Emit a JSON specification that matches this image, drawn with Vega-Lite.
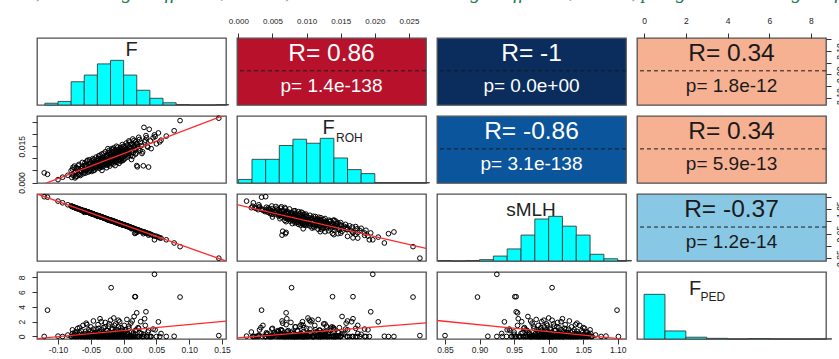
{
"$schema":"https://vega.github.io/schema/vega-lite/v6.json",
"padding":{"left":16,"top":-18,"right":0,"bottom":0},
"background":"white",
"title":{"text":"F, inbreeding coefficient; FROH, ROH-based inbreeding coefficient; FPED, pedigree inbreeding coefficient; R, correlation coefficient; p, p-value","font":"Liberation Serif","fontStyle":"italic","fontWeight":"normal","fontSize":20,"color":"#1d7a4f","anchor":"start","baseline":"alphabetic","offset":-3,"dx":10},
"config":{
 "font":"Liberation Sans",
 "view":{"stroke":"#505050","strokeWidth":1.3},
 "axis":{"domain":false,"grid":false,"tickColor":"#333","tickSize":5,"tickWidth":1,"labelFont":"Liberation Sans","labelFontSize":8.5,"labelColor":"#222","labelOverlap":false,"labelFlush":false,"labelBound":false},
 "text":{"font":"Liberation Sans"}
},
"datasets":{
 "ind":[
{"F":-0.121,"FROH":0.0040,"sMLH":1.101,"FPED":0},
{"F":-0.116,"FROH":0.0034,"sMLH":1.099,"FPED":3.56},
{"F":-0.100,"FROH":0.0012,"sMLH":1.083,"FPED":0.05},
{"F":-0.093,"FROH":0.0022,"sMLH":1.076,"FPED":0},
{"F":-0.085,"FROH":0.0030,"sMLH":1.068,"FPED":0.2},
{"F":-0.079,"FROH":0.0021,"sMLH":1.062,"FPED":0},
{"F":-0.078,"FROH":0.0055,"sMLH":1.061,"FPED":0.4},
{"F":-0.076,"FROH":0.0030,"sMLH":1.058,"FPED":0.1},
{"F":-0.075,"FROH":0.0068,"sMLH":1.057,"FPED":0},
{"F":-0.074,"FROH":0.0019,"sMLH":1.056,"FPED":0.6},
{"F":-0.073,"FROH":0.0044,"sMLH":1.055,"FPED":0},
{"F":-0.072,"FROH":0.0062,"sMLH":1.054,"FPED":0.3},
{"F":-0.071,"FROH":0.0026,"sMLH":1.053,"FPED":0},
{"F":-0.070,"FROH":0.0050,"sMLH":1.052,"FPED":1.1},
{"F":-0.069,"FROH":0.0035,"sMLH":1.050,"FPED":0},
{"F":-0.068,"FROH":0.0075,"sMLH":1.051,"FPED":0.2},
{"F":-0.067,"FROH":0.0041,"sMLH":1.049,"FPED":0.5},
{"F":-0.066,"FROH":0.0029,"sMLH":1.048,"FPED":0},
{"F":-0.065,"FROH":0.0058,"sMLH":1.048,"FPED":0.8},
{"F":-0.064,"FROH":0.0047,"sMLH":1.046,"FPED":0},
{"F":-0.063,"FROH":0.0083,"sMLH":1.044,"FPED":0.1},
{"F":-0.062,"FROH":0.0036,"sMLH":1.045,"FPED":1.5},
{"F":-0.062,"FROH":0.0060,"sMLH":1.043,"FPED":0},
{"F":-0.061,"FROH":0.0052,"sMLH":1.041,"FPED":0.3},
{"F":-0.060,"FROH":0.0070,"sMLH":1.037,"FPED":0},
{"F":-0.059,"FROH":0.0048,"sMLH":1.042,"FPED":0},
{"F":-0.058,"FROH":0.0072,"sMLH":1.041,"FPED":0.7},
{"F":-0.058,"FROH":0.0039,"sMLH":1.040,"FPED":0},
{"F":-0.057,"FROH":0.0065,"sMLH":1.041,"FPED":1.8},
{"F":-0.056,"FROH":0.0088,"sMLH":1.040,"FPED":0.2},
{"F":-0.055,"FROH":0.0055,"sMLH":1.039,"FPED":0},
{"F":-0.054,"FROH":0.0043,"sMLH":1.038,"FPED":0.4},
{"F":-0.053,"FROH":0.0077,"sMLH":1.036,"FPED":0},
{"F":-0.053,"FROH":0.0062,"sMLH":1.037,"FPED":0.9},
{"F":-0.052,"FROH":0.0094,"sMLH":1.035,"FPED":0},
{"F":-0.051,"FROH":0.0051,"sMLH":1.035,"FPED":0.1},
{"F":-0.050,"FROH":0.0068,"sMLH":1.034,"FPED":0},
{"F":-0.050,"FROH":0.0083,"sMLH":1.033,"FPED":1.3},
{"F":-0.049,"FROH":0.0046,"sMLH":1.033,"FPED":0},
{"F":-0.048,"FROH":0.0071,"sMLH":1.032,"FPED":0.6},
{"F":-0.047,"FROH":0.0058,"sMLH":1.031,"FPED":0},
{"F":-0.047,"FROH":0.0099,"sMLH":1.030,"FPED":0.3},
{"F":-0.046,"FROH":0.0064,"sMLH":1.030,"FPED":2.1},
{"F":-0.045,"FROH":0.0078,"sMLH":1.029,"FPED":0},
{"F":-0.044,"FROH":0.0052,"sMLH":1.028,"FPED":0.5},
{"F":-0.044,"FROH":0.0087,"sMLH":1.027,"FPED":0},
{"F":-0.043,"FROH":0.0069,"sMLH":1.027,"FPED":0.2},
{"F":-0.042,"FROH":0.0105,"sMLH":1.025,"FPED":1.0},
{"F":-0.042,"FROH":0.0060,"sMLH":1.026,"FPED":0},
{"F":-0.041,"FROH":0.0081,"sMLH":1.024,"FPED":0.4},
{"F":-0.040,"FROH":0.0073,"sMLH":1.021,"FPED":0},
{"F":-0.039,"FROH":0.0066,"sMLH":1.023,"FPED":0},
{"F":-0.039,"FROH":0.0092,"sMLH":1.024,"FPED":1.6},
{"F":-0.038,"FROH":0.0078,"sMLH":1.022,"FPED":0.1},
{"F":-0.038,"FROH":0.0110,"sMLH":1.021,"FPED":0},
{"F":-0.037,"FROH":0.0059,"sMLH":1.022,"FPED":0.7},
{"F":-0.036,"FROH":0.0085,"sMLH":1.021,"FPED":0},
{"F":-0.036,"FROH":0.0071,"sMLH":1.020,"FPED":2.4},
{"F":-0.035,"FROH":0.0099,"sMLH":1.019,"FPED":0.3},
{"F":-0.034,"FROH":0.0080,"sMLH":1.019,"FPED":0},
{"F":-0.034,"FROH":0.0063,"sMLH":1.018,"FPED":0.9},
{"F":-0.033,"FROH":0.0118,"sMLH":1.017,"FPED":0},
{"F":-0.032,"FROH":0.0088,"sMLH":1.017,"FPED":0.2},
{"F":-0.032,"FROH":0.0074,"sMLH":1.016,"FPED":0},
{"F":-0.031,"FROH":0.0096,"sMLH":1.015,"FPED":1.2},
{"F":-0.030,"FROH":0.0069,"sMLH":1.015,"FPED":0},
{"F":-0.030,"FROH":0.0105,"sMLH":1.014,"FPED":0.5},
{"F":-0.029,"FROH":0.0083,"sMLH":1.013,"FPED":0},
{"F":-0.028,"FROH":0.0127,"sMLH":1.012,"FPED":0.1},
{"F":-0.028,"FROH":0.0077,"sMLH":1.013,"FPED":1.9},
{"F":-0.027,"FROH":0.0093,"sMLH":1.011,"FPED":0},
{"F":-0.026,"FROH":0.0061,"sMLH":1.011,"FPED":0.4},
{"F":-0.026,"FROH":0.0112,"sMLH":1.010,"FPED":0},
{"F":-0.025,"FROH":0.0087,"sMLH":1.009,"FPED":0.8},
{"F":-0.025,"FROH":0.0101,"sMLH":1.008,"FPED":0},
{"F":-0.024,"FROH":0.0072,"sMLH":1.009,"FPED":0.3},
{"F":-0.023,"FROH":0.0120,"sMLH":1.007,"FPED":0},
{"F":-0.023,"FROH":0.0090,"sMLH":1.008,"FPED":1.4},
{"F":-0.022,"FROH":0.0082,"sMLH":1.006,"FPED":0},
{"F":-0.022,"FROH":0.0133,"sMLH":1.005,"FPED":0.6},
{"F":-0.021,"FROH":0.0098,"sMLH":1.006,"FPED":0},
{"F":-0.021,"FROH":0.0068,"sMLH":1.004,"FPED":0.2},
{"F":-0.020,"FROH":0.0108,"sMLH":1.005,"FPED":2.2},
{"F":-0.020,"FROH":0.0085,"sMLH":1.003,"FPED":0},
{"F":-0.024,"FROH":0.0140,"sMLH":1.006,"FPED":0},
{"F":-0.033,"FROH":0.0050,"sMLH":1.018,"FPED":0.1},
{"F":-0.019,"FROH":0.0078,"sMLH":1.005,"FPED":6.6},
{"F":-0.019,"FROH":0.0104,"sMLH":1.004,"FPED":0},
{"F":-0.018,"FROH":0.0121,"sMLH":1.004,"FPED":0.5},
{"F":-0.018,"FROH":0.0089,"sMLH":1.003,"FPED":0},
{"F":-0.017,"FROH":0.0135,"sMLH":1.002,"FPED":1.1},
{"F":-0.017,"FROH":0.0096,"sMLH":1.003,"FPED":0},
{"F":-0.016,"FROH":0.0076,"sMLH":1.001,"FPED":0.3},
{"F":-0.016,"FROH":0.0114,"sMLH":1.002,"FPED":0},
{"F":-0.015,"FROH":0.0102,"sMLH":1.000,"FPED":2.5},
{"F":-0.015,"FROH":0.0143,"sMLH":1.001,"FPED":0},
{"F":-0.014,"FROH":0.0087,"sMLH":0.999,"FPED":0.7},
{"F":-0.014,"FROH":0.0118,"sMLH":1.000,"FPED":0},
{"F":-0.013,"FROH":0.0099,"sMLH":0.998,"FPED":0.1},
{"F":-0.013,"FROH":0.0070,"sMLH":0.999,"FPED":0},
{"F":-0.012,"FROH":0.0127,"sMLH":0.997,"FPED":1.7},
{"F":-0.012,"FROH":0.0108,"sMLH":0.998,"FPED":0},
{"F":-0.011,"FROH":0.0092,"sMLH":0.996,"FPED":0.4},
{"F":-0.011,"FROH":0.0150,"sMLH":0.995,"FPED":0},
{"F":-0.010,"FROH":0.0113,"sMLH":0.996,"FPED":0.9},
{"F":-0.010,"FROH":0.0083,"sMLH":0.994,"FPED":0},
{"F":-0.009,"FROH":0.0122,"sMLH":0.995,"FPED":0.2},
{"F":-0.009,"FROH":0.0101,"sMLH":0.993,"FPED":0},
{"F":-0.008,"FROH":0.0137,"sMLH":0.994,"FPED":1.3},
{"F":-0.008,"FROH":0.0094,"sMLH":0.992,"FPED":0},
{"F":-0.007,"FROH":0.0116,"sMLH":0.993,"FPED":0.6},
{"F":-0.007,"FROH":0.0079,"sMLH":0.991,"FPED":0},
{"F":-0.006,"FROH":0.0129,"sMLH":0.992,"FPED":0},
{"F":-0.006,"FROH":0.0106,"sMLH":0.990,"FPED":2.0},
{"F":-0.005,"FROH":0.0144,"sMLH":0.991,"FPED":0.1},
{"F":-0.005,"FROH":0.0097,"sMLH":0.989,"FPED":0},
{"F":-0.004,"FROH":0.0119,"sMLH":0.990,"FPED":0.8},
{"F":-0.004,"FROH":0.0088,"sMLH":0.988,"FPED":0},
{"F":-0.003,"FROH":0.0132,"sMLH":0.989,"FPED":0.3},
{"F":-0.003,"FROH":0.0110,"sMLH":0.987,"FPED":0},
{"F":-0.002,"FROH":0.0157,"sMLH":0.988,"FPED":1.0},
{"F":-0.002,"FROH":0.0103,"sMLH":0.986,"FPED":0},
{"F":-0.001,"FROH":0.0124,"sMLH":0.987,"FPED":0.5},
{"F":-0.001,"FROH":0.0091,"sMLH":0.985,"FPED":0},
{"F":0.000,"FROH":0.0138,"sMLH":0.986,"FPED":0},
{"F":0.001,"FROH":0.0112,"sMLH":0.985,"FPED":1.5},
{"F":0.002,"FROH":0.0151,"sMLH":0.984,"FPED":0.2},
{"F":0.002,"FROH":0.0099,"sMLH":0.983,"FPED":0},
{"F":0.003,"FROH":0.0128,"sMLH":0.984,"FPED":0.7},
{"F":0.004,"FROH":0.0163,"sMLH":0.982,"FPED":0},
{"F":0.005,"FROH":0.0117,"sMLH":0.982,"FPED":2.3},
{"F":0.005,"FROH":0.0140,"sMLH":0.980,"FPED":0},
{"F":0.006,"FROH":0.0105,"sMLH":0.981,"FPED":0.4},
{"F":0.007,"FROH":0.0133,"sMLH":0.979,"FPED":0},
{"F":0.008,"FROH":0.0172,"sMLH":0.979,"FPED":1.1},
{"F":0.008,"FROH":0.0121,"sMLH":0.977,"FPED":0},
{"F":0.009,"FROH":0.0146,"sMLH":0.978,"FPED":0.1},
{"F":0.010,"FROH":0.0111,"sMLH":0.975,"FPED":0},
{"F":0.011,"FROH":0.0158,"sMLH":0.976,"FPED":1.8},
{"F":0.011,"FROH":0.0130,"sMLH":0.974,"FPED":0},
{"F":0.012,"FROH":0.0095,"sMLH":0.970,"FPED":0.6},
{"F":0.013,"FROH":0.0142,"sMLH":0.974,"FPED":0},
{"F":0.014,"FROH":0.0180,"sMLH":0.972,"FPED":0.3},
{"F":0.015,"FROH":0.0125,"sMLH":0.972,"FPED":0},
{"F":0.016,"FROH":0.0152,"sMLH":0.970,"FPED":2.7},
{"F":0.017,"FROH":0.0138,"sMLH":0.951,"FPED":5.38},
{"F":0.018,"FROH":0.0168,"sMLH":0.953,"FPED":5.38},
{"F":0.018,"FROH":0.0117,"sMLH":0.968,"FPED":0},
{"F":0.019,"FROH":0.0160,"sMLH":0.967,"FPED":0.9},
{"F":0.020,"FROH":0.0070,"sMLH":0.955,"FPED":3.2},
{"F":0.021,"FROH":0.0065,"sMLH":0.960,"FPED":0},
{"F":0.022,"FROH":0.0148,"sMLH":0.965,"FPED":1.2},
{"F":0.023,"FROH":0.0187,"sMLH":0.964,"FPED":0},
{"F":0.025,"FROH":0.0132,"sMLH":0.962,"FPED":0.5},
{"F":0.026,"FROH":0.0166,"sMLH":0.961,"FPED":2.0},
{"F":0.028,"FROH":0.0120,"sMLH":0.958,"FPED":0},
{"F":0.030,"FROH":0.0069,"sMLH":0.950,"FPED":0.3},
{"F":0.031,"FROH":0.0228,"sMLH":0.957,"FPED":0},
{"F":0.033,"FROH":0.0175,"sMLH":0.955,"FPED":1.5},
{"F":0.034,"FROH":0.0194,"sMLH":0.953,"FPED":3.34},
{"F":0.036,"FROH":0.0150,"sMLH":0.952,"FPED":0},
{"F":0.038,"FROH":0.0064,"sMLH":0.944,"FPED":0.8},
{"F":0.039,"FROH":0.0220,"sMLH":0.950,"FPED":0},
{"F":0.042,"FROH":0.0140,"sMLH":0.946,"FPED":0},
{"F":0.045,"FROH":0.0185,"sMLH":0.943,"FPED":1.0},
{"F":0.047,"FROH":0.0197,"sMLH":0.925,"FPED":8.41},
{"F":0.050,"FROH":0.0160,"sMLH":0.939,"FPED":0},
{"F":0.053,"FROH":0.0205,"sMLH":0.936,"FPED":1.98},
{"F":0.057,"FROH":0.0175,"sMLH":0.932,"FPED":0.4},
{"F":0.065,"FROH":0.0192,"sMLH":0.925,"FPED":0},
{"F":0.077,"FROH":0.0214,"sMLH":0.912,"FPED":0.03},
{"F":0.086,"FROH":0.0256,"sMLH":0.897,"FPED":5.33},
{"F":0.145,"FROH":0.0266,"sMLH":0.850,"FPED":0.12},
{"F":-0.080,"FROH":0.0049,"sMLH":1.063,"FPED":0},
{"F":-0.078,"FROH":0.0031,"sMLH":1.060,"FPED":0.9},
{"F":-0.077,"FROH":0.0063,"sMLH":1.060,"FPED":0},
{"F":-0.075,"FROH":0.0041,"sMLH":1.058,"FPED":0.3},
{"F":-0.073,"FROH":0.0024,"sMLH":1.056,"FPED":0},
{"F":-0.071,"FROH":0.0057,"sMLH":1.054,"FPED":0.6},
{"F":-0.069,"FROH":0.0069,"sMLH":1.052,"FPED":0},
{"F":-0.067,"FROH":0.0033,"sMLH":1.050,"FPED":1.2},
{"F":-0.065,"FROH":0.0045,"sMLH":1.047,"FPED":0},
{"F":-0.063,"FROH":0.0066,"sMLH":1.046,"FPED":0.2},
{"F":-0.060,"FROH":0.0040,"sMLH":1.044,"FPED":0},
{"F":-0.059,"FROH":0.0081,"sMLH":1.043,"FPED":0.4},
{"F":-0.057,"FROH":0.0050,"sMLH":1.041,"FPED":0},
{"F":-0.056,"FROH":0.0070,"sMLH":1.039,"FPED":1.6},
{"F":-0.055,"FROH":0.0092,"sMLH":1.038,"FPED":0},
{"F":-0.054,"FROH":0.0060,"sMLH":1.039,"FPED":0.1},
{"F":-0.052,"FROH":0.0047,"sMLH":1.036,"FPED":0},
{"F":-0.051,"FROH":0.0079,"sMLH":1.035,"FPED":0.7},
{"F":-0.050,"FROH":0.0058,"sMLH":1.032,"FPED":0},
{"F":-0.048,"FROH":0.0090,"sMLH":1.031,"FPED":0.2},
{"F":-0.047,"FROH":0.0073,"sMLH":1.032,"FPED":0},
{"F":-0.046,"FROH":0.0049,"sMLH":1.029,"FPED":1.0},
{"F":-0.045,"FROH":0.0096,"sMLH":1.029,"FPED":0},
{"F":-0.043,"FROH":0.0078,"sMLH":1.026,"FPED":0.5},
{"F":-0.041,"FROH":0.0062,"sMLH":1.025,"FPED":0},
{"F":-0.040,"FROH":0.0089,"sMLH":1.024,"FPED":0.3},
{"F":-0.039,"FROH":0.0072,"sMLH":1.022,"FPED":0},
{"F":-0.038,"FROH":0.0100,"sMLH":1.023,"FPED":1.1},
{"F":-0.037,"FROH":0.0083,"sMLH":1.021,"FPED":0},
{"F":-0.036,"FROH":0.0113,"sMLH":1.020,"FPED":0.6},
{"F":-0.035,"FROH":0.0067,"sMLH":1.020,"FPED":0},
{"F":-0.034,"FROH":0.0094,"sMLH":1.018,"FPED":2.0},
{"F":-0.033,"FROH":0.0081,"sMLH":1.018,"FPED":0},
{"F":-0.032,"FROH":0.0102,"sMLH":1.016,"FPED":0.4},
{"F":-0.031,"FROH":0.0076,"sMLH":1.016,"FPED":0},
{"F":-0.030,"FROH":0.0121,"sMLH":1.015,"FPED":0.1},
{"F":-0.029,"FROH":0.0095,"sMLH":1.014,"FPED":0},
{"F":-0.028,"FROH":0.0084,"sMLH":1.012,"FPED":1.3},
{"F":-0.027,"FROH":0.0108,"sMLH":1.012,"FPED":0},
{"F":-0.026,"FROH":0.0073,"sMLH":1.010,"FPED":0.8},
{"F":-0.025,"FROH":0.0116,"sMLH":1.010,"FPED":0},
{"F":-0.024,"FROH":0.0093,"sMLH":1.008,"FPED":0.2},
{"F":-0.023,"FROH":0.0079,"sMLH":1.007,"FPED":0},
{"F":-0.022,"FROH":0.0125,"sMLH":1.007,"FPED":1.7},
{"F":-0.021,"FROH":0.0089,"sMLH":1.005,"FPED":0},
{"F":-0.020,"FROH":0.0117,"sMLH":1.004,"FPED":0.5},
{"F":-0.019,"FROH":0.0093,"sMLH":1.003,"FPED":0},
{"F":-0.018,"FROH":0.0140,"sMLH":1.003,"FPED":0.9},
{"F":-0.017,"FROH":0.0082,"sMLH":1.001,"FPED":0},
{"F":-0.016,"FROH":0.0128,"sMLH":1.001,"FPED":0.3},
{"F":-0.015,"FROH":0.0109,"sMLH":0.999,"FPED":0},
{"F":-0.014,"FROH":0.0095,"sMLH":0.998,"FPED":1.5},
{"F":-0.013,"FROH":0.0134,"sMLH":0.999,"FPED":0},
{"F":-0.012,"FROH":0.0117,"sMLH":0.996,"FPED":0.1},
{"F":-0.011,"FROH":0.0086,"sMLH":0.996,"FPED":0},
{"F":-0.010,"FROH":0.0125,"sMLH":0.995,"FPED":0.7},
{"F":-0.009,"FROH":0.0146,"sMLH":0.994,"FPED":0},
{"F":-0.008,"FROH":0.0104,"sMLH":0.993,"FPED":2.2},
{"F":-0.007,"FROH":0.0131,"sMLH":0.992,"FPED":0},
{"F":-0.006,"FROH":0.0092,"sMLH":0.991,"FPED":0.4},
{"F":-0.005,"FROH":0.0121,"sMLH":0.990,"FPED":0},
{"F":-0.004,"FROH":0.0139,"sMLH":0.989,"FPED":1.2},
{"F":-0.003,"FROH":0.0100,"sMLH":0.988,"FPED":0},
{"F":-0.002,"FROH":0.0127,"sMLH":0.988,"FPED":0.2},
{"F":-0.001,"FROH":0.0149,"sMLH":0.986,"FPED":0},
{"F":0.000,"FROH":0.0115,"sMLH":0.986,"FPED":0.6},
{"F":0.000,"FROH":0.0096,"sMLH":0.985,"FPED":0},
{"F":0.001,"FROH":0.0143,"sMLH":0.985,"FPED":0},
{"F":0.003,"FROH":0.0119,"sMLH":0.983,"FPED":0.9},
{"F":0.004,"FROH":0.0137,"sMLH":0.982,"FPED":0},
{"F":0.006,"FROH":0.0155,"sMLH":0.980,"FPED":0.3},
{"F":0.007,"FROH":0.0110,"sMLH":0.980,"FPED":0},
{"F":0.008,"FROH":0.0129,"sMLH":0.978,"FPED":1.4},
{"F":0.009,"FROH":0.0167,"sMLH":0.977,"FPED":0},
{"F":0.010,"FROH":0.0140,"sMLH":0.977,"FPED":0.1},
{"F":0.012,"FROH":0.0124,"sMLH":0.975,"FPED":0},
{"F":0.013,"FROH":0.0160,"sMLH":0.974,"FPED":2.1},
{"F":0.014,"FROH":0.0108,"sMLH":0.973,"FPED":0},
{"F":0.015,"FROH":0.0147,"sMLH":0.972,"FPED":0.5},
{"F":0.016,"FROH":0.0174,"sMLH":0.970,"FPED":0},
{"F":0.018,"FROH":0.0135,"sMLH":0.969,"FPED":0.8},
{"F":0.019,"FROH":0.0122,"sMLH":0.967,"FPED":0},
{"F":0.021,"FROH":0.0159,"sMLH":0.966,"FPED":0},
{"F":0.023,"FROH":0.0140,"sMLH":0.964,"FPED":1.1},
{"F":0.024,"FROH":0.0178,"sMLH":0.963,"FPED":0},
{"F":0.027,"FROH":0.0152,"sMLH":0.960,"FPED":0.4},
{"F":0.029,"FROH":0.0127,"sMLH":0.958,"FPED":0},
{"F":0.032,"FROH":0.0168,"sMLH":0.956,"FPED":2.4},
{"F":0.035,"FROH":0.0185,"sMLH":0.953,"FPED":0},
{"F":0.037,"FROH":0.0146,"sMLH":0.950,"FPED":0.6},
{"F":0.041,"FROH":0.0172,"sMLH":0.947,"FPED":0},
{"F":0.048,"FROH":0.0190,"sMLH":0.940,"FPED":0.9},
{"F":0.055,"FROH":0.0168,"sMLH":0.933,"FPED":0}
 ],
 "hF":[
{"lo":-0.12,"hi":-0.10,"n":4},{"lo":-0.10,"hi":-0.08,"n":8},{"lo":-0.08,"hi":-0.06,"n":52},{"lo":-0.06,"hi":-0.04,"n":67},{"lo":-0.04,"hi":-0.02,"n":92},{"lo":-0.02,"hi":0,"n":100},{"lo":0,"hi":0.02,"n":67},{"lo":0.02,"hi":0.04,"n":33},{"lo":0.04,"hi":0.06,"n":15},{"lo":0.06,"hi":0.08,"n":5},{"lo":0.08,"hi":0.10,"n":1},{"lo":0.10,"hi":0.12,"n":0},{"lo":0.12,"hi":0.14,"n":0},{"lo":0.14,"hi":0.16,"n":1}
 ],
 "hR":[
{"lo":0,"hi":0.002,"n":8},{"lo":0.002,"hi":0.004,"n":53},{"lo":0.004,"hi":0.006,"n":53},{"lo":0.006,"hi":0.008,"n":84},{"lo":0.008,"hi":0.010,"n":98},{"lo":0.010,"hi":0.012,"n":89},{"lo":0.012,"hi":0.014,"n":100},{"lo":0.014,"hi":0.016,"n":56},{"lo":0.016,"hi":0.018,"n":30},{"lo":0.018,"hi":0.020,"n":21},{"lo":0.020,"hi":0.022,"n":1},{"lo":0.022,"hi":0.024,"n":1},{"lo":0.024,"hi":0.026,"n":1},{"lo":0.026,"hi":0.028,"n":1}
 ],
 "hS":[
{"lo":0.84,"hi":0.86,"n":1},{"lo":0.86,"hi":0.88,"n":0},{"lo":0.88,"hi":0.90,"n":1},{"lo":0.90,"hi":0.92,"n":3},{"lo":0.92,"hi":0.94,"n":11},{"lo":0.94,"hi":0.96,"n":27},{"lo":0.96,"hi":0.98,"n":58},{"lo":0.98,"hi":1.00,"n":94},{"lo":1.00,"hi":1.02,"n":100},{"lo":1.02,"hi":1.04,"n":78},{"lo":1.04,"hi":1.06,"n":58},{"lo":1.06,"hi":1.08,"n":15},{"lo":1.08,"hi":1.10,"n":5},{"lo":1.10,"hi":1.12,"n":1}
 ],
 "hP":[
{"lo":0,"hi":1,"n":100},{"lo":1,"hi":2,"n":18},{"lo":2,"hi":3,"n":4},{"lo":3,"hi":4,"n":1.5},{"lo":4,"hi":5,"n":0},{"lo":5,"hi":6,"n":1},{"lo":6,"hi":7,"n":0.3},{"lo":7,"hi":8,"n":0},{"lo":8,"hi":9,"n":0.3}
 ],
 "fit":[
{"pair":"F-FROH","x":-0.132,"y":-0.0017},{"pair":"F-FROH","x":0.156,"y":0.0281},
{"pair":"F-sMLH","x":-0.132,"y":1.1122},{"pair":"F-sMLH","x":0.156,"y":0.8383},
{"pair":"FROH-sMLH","x":-0.0002,"y":1.0685},{"pair":"FROH-sMLH","x":0.0275,"y":0.8896},
{"pair":"F-FPED","x":-0.132,"y":-0.28},{"pair":"F-FPED","x":0.156,"y":2.07},
{"pair":"FROH-FPED","x":-0.0002,"y":-0.19},{"pair":"FROH-FPED","x":0.0275,"y":1.85},
{"pair":"sMLH-FPED","x":0.8384,"y":2.16},{"pair":"sMLH-FPED","x":1.112,"y":-0.39}
 ],
 "cor":[
{"pair":"F-FROH","rlab":"R= 0.86","plab":"p= 1.4e-138"},
{"pair":"F-sMLH","rlab":"R= -1","plab":"p= 0.0e+00"},
{"pair":"F-FPED","rlab":"R= 0.34","plab":"p= 1.8e-12"},
{"pair":"FROH-sMLH","rlab":"R= -0.86","plab":"p= 3.1e-138"},
{"pair":"FROH-FPED","rlab":"R= 0.34","plab":"p= 5.9e-13"},
{"pair":"sMLH-FPED","rlab":"R= -0.37","plab":"p= 1.2e-14"}
 ]
},
"columns":4,
"spacing":{"row":11,"column":11},
"bounds":"flush",
"concat":[
{"width":189,"height":67,"layer":[
 {"data":{"name":"hF"},"mark":{"type":"rect","fill":"#00FFFF","stroke":"#3a3a3a","strokeWidth":0.9},
  "encoding":{"x":{"field":"lo","type":"quantitative","scale":{"domain":[-0.132,0.156],"nice":false,"zero":false},"axis":null},"x2":{"field":"hi"},
   "y":{"field":"n","type":"quantitative","scale":{"domain":[0,150],"nice":false},"axis":null},"y2":{"datum":0}}},
 {"data":{"values":[{"t":"F"}]},"mark":{"type":"text","fontSize":20,"baseline":"middle","align":"center","color":"#222"},
  "encoding":{"text":{"field":"t"},"x":{"datum":0.012,"type":"quantitative","axis":null},"y":{"datum":124,"type":"quantitative","axis":null}}}
]},
{"width":189,"height":67,"view":{"fill":"#B8112C","stroke":"#505050","strokeWidth":1.3},"data":{"name":"cor"},"transform":[{"filter":"datum.pair == 'F-FROH'"}],"layer":[
 {"mark":{"type":"rule","strokeDash":[4,3],"color":"#1a1a1a","strokeWidth":1},
  "encoding":{"y":{"datum":0.0149,"type":"quantitative","scale":{"domain":[-0.132,0.156],"nice":false,"zero":false},"axis":null}}},
 {"mark":{"type":"text","fontSize":24.5,"color":"white","baseline":"middle","align":"center"},
  "encoding":{"text":{"field":"rlab"},"x":{"datum":0.01365,"type":"quantitative","scale":{"domain":[-0.0002,0.0275],"nice":false,"zero":false},"axis":{"orient":"top","values":[0,0.005,0.01,0.015,0.02,0.025],"format":".3f","title":null,"labelPadding":8,"labelFontSize":8}},"y":{"datum":0.0852,"type":"quantitative","axis":null}}},
 {"mark":{"type":"text","fontSize":19,"color":"white","baseline":"middle","align":"center"},
  "encoding":{"text":{"field":"plab"},"x":{"datum":0.01365,"type":"quantitative","axis":{"orient":"top","values":[0,0.005,0.01,0.015,0.02,0.025],"format":".3f","title":null,"labelPadding":8,"labelFontSize":8}},"y":{"datum":-0.0485,"type":"quantitative","axis":null}}}
]},
{"width":189,"height":67,"view":{"fill":"#0A2D5E","stroke":"#505050","strokeWidth":1.3},"data":{"name":"cor"},"transform":[{"filter":"datum.pair == 'F-sMLH'"}],"layer":[
 {"mark":{"type":"rule","strokeDash":[4,3],"color":"#1a1a1a","strokeWidth":1},
  "encoding":{"y":{"datum":0.0149,"type":"quantitative","scale":{"domain":[-0.132,0.156],"nice":false,"zero":false},"axis":null}}},
 {"mark":{"type":"text","fontSize":24.5,"color":"white","baseline":"middle","align":"center"},
  "encoding":{"text":{"field":"rlab"},"x":{"datum":0.9752,"type":"quantitative","scale":{"domain":[0.8384,1.112],"nice":false,"zero":false},"axis":null},"y":{"datum":0.0852,"type":"quantitative","axis":null}}},
 {"mark":{"type":"text","fontSize":19,"color":"white","baseline":"middle","align":"center"},
  "encoding":{"text":{"field":"plab"},"x":{"datum":0.9752,"type":"quantitative","axis":null},"y":{"datum":-0.0485,"type":"quantitative","axis":null}}}
]},
{"width":189,"height":67,"view":{"fill":"#F6B193","stroke":"#505050","strokeWidth":1.3},"data":{"name":"cor"},"transform":[{"filter":"datum.pair == 'F-FPED'"}],"layer":[
 {"mark":{"type":"rule","strokeDash":[4,3],"color":"#1a1a1a","strokeWidth":1},
  "encoding":{"y":{"datum":0.0149,"type":"quantitative","scale":{"domain":[-0.132,0.156],"nice":false,"zero":false},"axis":{"orient":"right","values":[-0.1,-0.05,0,0.05,0.1,0.15],"title":null,"labelAngle":270,"labelPadding":4,"labelExpr":"indexof(['-0.10','0.00','0.10'], replace(format(datum.value,'.2f'),'−','-')) >= 0 ? replace(format(datum.value,'.2f'),'−','-') : ''"}}}},
 {"mark":{"type":"text","fontSize":24.5,"color":"#1a1a1a","baseline":"middle","align":"center"},
  "encoding":{"text":{"field":"rlab"},"x":{"datum":4.19,"type":"quantitative","scale":{"domain":[-0.34,8.72],"nice":false,"zero":false},"axis":{"orient":"top","values":[0,2,4,6,8],"format":"d","title":null,"labelPadding":8}},"y":{"datum":0.0852,"type":"quantitative","axis":{"orient":"right","values":[-0.1,-0.05,0,0.05,0.1,0.15],"title":null,"labelAngle":270,"labelPadding":4,"labelExpr":"indexof(['-0.10','0.00','0.10'], replace(format(datum.value,'.2f'),'−','-')) >= 0 ? replace(format(datum.value,'.2f'),'−','-') : ''"}}}},
 {"mark":{"type":"text","fontSize":19,"color":"#1a1a1a","baseline":"middle","align":"center"},
  "encoding":{"text":{"field":"plab"},"x":{"datum":4.19,"type":"quantitative","axis":{"orient":"top","values":[0,2,4,6,8],"format":"d","title":null,"labelPadding":8}},"y":{"datum":-0.0485,"type":"quantitative","axis":{"orient":"right","values":[-0.1,-0.05,0,0.05,0.1,0.15],"title":null,"labelAngle":270,"labelPadding":4,"labelExpr":"indexof(['-0.10','0.00','0.10'], replace(format(datum.value,'.2f'),'−','-')) >= 0 ? replace(format(datum.value,'.2f'),'−','-') : ''"}}}}
]},
{"width":189,"height":67,"layer":[
 {"data":{"name":"ind"},"mark":{"type":"point","shape":"circle","filled":false,"color":"#000","strokeWidth":1,"size":22,"opacity":1},
  "encoding":{"x":{"field":"F","type":"quantitative","scale":{"domain":[-0.132,0.156],"nice":false,"zero":false},"axis":null},
   "y":{"field":"FROH","type":"quantitative","scale":{"domain":[-0.0002,0.0275],"nice":false,"zero":false},"axis":{"orient":"left","values":[0,0.005,0.01,0.015,0.02,0.025],"title":null,"labelAngle":270,"labelPadding":6,"labelExpr":"indexof(['0.000','0.015'], format(datum.value,'.3f')) >= 0 ? format(datum.value,'.3f') : ''"}}}},
 {"data":{"name":"fit"},"transform":[{"filter":"datum.pair == 'F-FROH'"}],"mark":{"type":"line","color":"#FF2A2A","strokeWidth":1.3,"clip":true},
  "encoding":{"x":{"field":"x","type":"quantitative","axis":null},"y":{"field":"y","type":"quantitative","axis":{"orient":"left","values":[0,0.005,0.01,0.015,0.02,0.025],"title":null,"labelAngle":270,"labelPadding":6,"labelExpr":"indexof(['0.000','0.015'], format(datum.value,'.3f')) >= 0 ? format(datum.value,'.3f') : ''"}}}}
]},
{"width":189,"height":67,"layer":[
 {"data":{"name":"hR"},"mark":{"type":"rect","fill":"#00FFFF","stroke":"#3a3a3a","strokeWidth":0.9},
  "encoding":{"x":{"field":"lo","type":"quantitative","scale":{"domain":[-0.0002,0.0275],"nice":false,"zero":false},"axis":null},"x2":{"field":"hi"},
   "y":{"field":"n","type":"quantitative","scale":{"domain":[0,150],"nice":false},"axis":null},"y2":{"datum":0}}},
 {"data":{"values":[{"t":"F"}]},"mark":{"type":"text","fontSize":20,"baseline":"middle","align":"center","color":"#222"},
  "encoding":{"text":{"field":"t"},"x":{"datum":0.01321,"type":"quantitative","axis":null},"y":{"datum":123,"type":"quantitative","axis":null}}},
 {"data":{"values":[{"t":"ROH"}]},"mark":{"type":"text","fontSize":12,"baseline":"middle","align":"center","color":"#222"},
  "encoding":{"text":{"field":"t"},"x":{"datum":0.01626,"type":"quantitative","axis":null},"y":{"datum":100,"type":"quantitative","axis":null}}}
]},
{"width":189,"height":67,"view":{"fill":"#0B559D","stroke":"#505050","strokeWidth":1.3},"data":{"name":"cor"},"transform":[{"filter":"datum.pair == 'FROH-sMLH'"}],"layer":[
 {"mark":{"type":"rule","strokeDash":[4,3],"color":"#1a1a1a","strokeWidth":1},
  "encoding":{"y":{"datum":0.0139,"type":"quantitative","scale":{"domain":[-0.0002,0.0275],"nice":false,"zero":false},"axis":null}}},
 {"mark":{"type":"text","fontSize":24.5,"color":"white","baseline":"middle","align":"center"},
  "encoding":{"text":{"field":"rlab"},"x":{"datum":0.9752,"type":"quantitative","scale":{"domain":[0.8384,1.112],"nice":false,"zero":false},"axis":null},"y":{"datum":0.0207,"type":"quantitative","axis":null}}},
 {"mark":{"type":"text","fontSize":19,"color":"white","baseline":"middle","align":"center"},
  "encoding":{"text":{"field":"plab"},"x":{"datum":0.9752,"type":"quantitative","axis":null},"y":{"datum":0.0078,"type":"quantitative","axis":null}}}
]},
{"width":189,"height":67,"view":{"fill":"#F6B193","stroke":"#505050","strokeWidth":1.3},"data":{"name":"cor"},"transform":[{"filter":"datum.pair == 'FROH-FPED'"}],"layer":[
 {"mark":{"type":"rule","strokeDash":[4,3],"color":"#1a1a1a","strokeWidth":1},
  "encoding":{"y":{"datum":0.0139,"type":"quantitative","scale":{"domain":[-0.0002,0.0275],"nice":false,"zero":false},"axis":null}}},
 {"mark":{"type":"text","fontSize":24.5,"color":"#1a1a1a","baseline":"middle","align":"center"},
  "encoding":{"text":{"field":"rlab"},"x":{"datum":4.19,"type":"quantitative","scale":{"domain":[-0.34,8.72],"nice":false,"zero":false},"axis":null},"y":{"datum":0.0207,"type":"quantitative","axis":null}}},
 {"mark":{"type":"text","fontSize":19,"color":"#1a1a1a","baseline":"middle","align":"center"},
  "encoding":{"text":{"field":"plab"},"x":{"datum":4.19,"type":"quantitative","axis":null},"y":{"datum":0.0078,"type":"quantitative","axis":null}}}
]},
{"width":189,"height":67,"layer":[
 {"data":{"name":"ind"},"mark":{"type":"point","shape":"circle","filled":false,"color":"#000","strokeWidth":1,"size":22,"opacity":1},
  "encoding":{"x":{"field":"F","type":"quantitative","scale":{"domain":[-0.132,0.156],"nice":false,"zero":false},"axis":null},
   "y":{"field":"sMLH","type":"quantitative","scale":{"domain":[0.8384,1.112],"nice":false,"zero":false},"axis":null}}},
 {"data":{"name":"fit"},"transform":[{"filter":"datum.pair == 'F-sMLH'"}],"mark":{"type":"line","color":"#FF2A2A","strokeWidth":1.3,"clip":true},
  "encoding":{"x":{"field":"x","type":"quantitative","axis":null},"y":{"field":"y","type":"quantitative","axis":null}}}
]},
{"width":189,"height":67,"layer":[
 {"data":{"name":"ind"},"mark":{"type":"point","shape":"circle","filled":false,"color":"#000","strokeWidth":1,"size":22,"opacity":1},
  "encoding":{"x":{"field":"FROH","type":"quantitative","scale":{"domain":[-0.0002,0.0275],"nice":false,"zero":false},"axis":null},
   "y":{"field":"sMLH","type":"quantitative","scale":{"domain":[0.8384,1.112],"nice":false,"zero":false},"axis":null}}},
 {"data":{"name":"fit"},"transform":[{"filter":"datum.pair == 'FROH-sMLH'"}],"mark":{"type":"line","color":"#FF2A2A","strokeWidth":1.3,"clip":true},
  "encoding":{"x":{"field":"x","type":"quantitative","axis":null},"y":{"field":"y","type":"quantitative","axis":null}}}
]},
{"width":189,"height":67,"layer":[
 {"data":{"name":"hS"},"mark":{"type":"rect","fill":"#00FFFF","stroke":"#3a3a3a","strokeWidth":0.9},
  "encoding":{"x":{"field":"lo","type":"quantitative","scale":{"domain":[0.8384,1.112],"nice":false,"zero":false},"axis":null},"x2":{"field":"hi"},
   "y":{"field":"n","type":"quantitative","scale":{"domain":[0,150],"nice":false},"axis":null},"y2":{"datum":0}}},
 {"data":{"values":[{"t":"sMLH"}]},"mark":{"type":"text","fontSize":19,"baseline":"middle","align":"center","color":"#222"},
  "encoding":{"text":{"field":"t"},"x":{"datum":0.9745,"type":"quantitative","axis":null},"y":{"datum":115,"type":"quantitative","axis":null}}}
]},
{"width":189,"height":67,"view":{"fill":"#89C8E4","stroke":"#505050","strokeWidth":1.3},"data":{"name":"cor"},"transform":[{"filter":"datum.pair == 'sMLH-FPED'"}],"layer":[
 {"mark":{"type":"rule","strokeDash":[4,3],"color":"#1a1a1a","strokeWidth":1},
  "encoding":{"y":{"datum":0.9771,"type":"quantitative","scale":{"domain":[0.8384,1.112],"nice":false,"zero":false},"axis":{"orient":"right","values":[0.85,0.9,0.95,1,1.05,1.1],"title":null,"labelAngle":270,"labelPadding":4,"labelExpr":"indexof(['0.85','0.95','1.05'], format(datum.value,'.2f')) >= 0 ? format(datum.value,'.2f') : ''"}}}},
 {"mark":{"type":"text","fontSize":24.5,"color":"#1a1a1a","baseline":"middle","align":"center"},
  "encoding":{"text":{"field":"rlab"},"x":{"datum":4.19,"type":"quantitative","scale":{"domain":[-0.34,8.72],"nice":false,"zero":false},"axis":null},"y":{"datum":1.0447,"type":"quantitative","axis":{"orient":"right","values":[0.85,0.9,0.95,1,1.05,1.1],"title":null,"labelAngle":270,"labelPadding":4,"labelExpr":"indexof(['0.85','0.95','1.05'], format(datum.value,'.2f')) >= 0 ? format(datum.value,'.2f') : ''"}}}},
 {"mark":{"type":"text","fontSize":19,"color":"#1a1a1a","baseline":"middle","align":"center"},
  "encoding":{"text":{"field":"plab"},"x":{"datum":4.19,"type":"quantitative","axis":null},"y":{"datum":0.9177,"type":"quantitative","axis":{"orient":"right","values":[0.85,0.9,0.95,1,1.05,1.1],"title":null,"labelAngle":270,"labelPadding":4,"labelExpr":"indexof(['0.85','0.95','1.05'], format(datum.value,'.2f')) >= 0 ? format(datum.value,'.2f') : ''"}}}}
]},
{"width":189,"height":67,"layer":[
 {"data":{"name":"ind"},"mark":{"type":"point","shape":"circle","filled":false,"color":"#000","strokeWidth":1,"size":22,"opacity":1},
  "encoding":{"x":{"field":"F","type":"quantitative","scale":{"domain":[-0.132,0.156],"nice":false,"zero":false},"axis":{"orient":"bottom","values":[-0.1,-0.05,0,0.05,0.1,0.15],"title":null,"labelPadding":1,"labelExpr":"replace(format(datum.value,'.2f'),'−','-')"}},
   "y":{"field":"FPED","type":"quantitative","scale":{"domain":[-0.34,8.72],"nice":false,"zero":false},"axis":{"orient":"left","values":[0,2,4,6,8],"format":"d","title":null,"labelAngle":270,"labelPadding":6}}}},
 {"data":{"name":"fit"},"transform":[{"filter":"datum.pair == 'F-FPED'"}],"mark":{"type":"line","color":"#FF2A2A","strokeWidth":1.3,"clip":true},
  "encoding":{"x":{"field":"x","type":"quantitative","axis":{"orient":"bottom","values":[-0.1,-0.05,0,0.05,0.1,0.15],"title":null,"labelPadding":1,"labelExpr":"replace(format(datum.value,'.2f'),'−','-')"}},"y":{"field":"y","type":"quantitative","axis":{"orient":"left","values":[0,2,4,6,8],"format":"d","title":null,"labelAngle":270,"labelPadding":6}}}}
]},
{"width":189,"height":67,"layer":[
 {"data":{"name":"ind"},"mark":{"type":"point","shape":"circle","filled":false,"color":"#000","strokeWidth":1,"size":22,"opacity":1},
  "encoding":{"x":{"field":"FROH","type":"quantitative","scale":{"domain":[-0.0002,0.0275],"nice":false,"zero":false},"axis":null},
   "y":{"field":"FPED","type":"quantitative","scale":{"domain":[-0.34,8.72],"nice":false,"zero":false},"axis":null}}},
 {"data":{"name":"fit"},"transform":[{"filter":"datum.pair == 'FROH-FPED'"}],"mark":{"type":"line","color":"#FF2A2A","strokeWidth":1.3,"clip":true},
  "encoding":{"x":{"field":"x","type":"quantitative","axis":null},"y":{"field":"y","type":"quantitative","axis":null}}}
]},
{"width":189,"height":67,"layer":[
 {"data":{"name":"ind"},"mark":{"type":"point","shape":"circle","filled":false,"color":"#000","strokeWidth":1,"size":22,"opacity":1},
  "encoding":{"x":{"field":"sMLH","type":"quantitative","scale":{"domain":[0.8384,1.112],"nice":false,"zero":false},"axis":{"orient":"bottom","values":[0.85,0.9,0.95,1,1.05,1.1],"format":".2f","title":null,"labelPadding":1}},
   "y":{"field":"FPED","type":"quantitative","scale":{"domain":[-0.34,8.72],"nice":false,"zero":false},"axis":null}}},
 {"data":{"name":"fit"},"transform":[{"filter":"datum.pair == 'sMLH-FPED'"}],"mark":{"type":"line","color":"#FF2A2A","strokeWidth":1.3,"clip":true},
  "encoding":{"x":{"field":"x","type":"quantitative","axis":{"orient":"bottom","values":[0.85,0.9,0.95,1,1.05,1.1],"format":".2f","title":null,"labelPadding":1}},"y":{"field":"y","type":"quantitative","axis":null}}}
]},
{"width":189,"height":67,"layer":[
 {"data":{"name":"hP"},"mark":{"type":"rect","fill":"#00FFFF","stroke":"#3a3a3a","strokeWidth":0.9},
  "encoding":{"x":{"field":"lo","type":"quantitative","scale":{"domain":[-0.34,8.72],"nice":false,"zero":false},"axis":null},"x2":{"field":"hi"},
   "y":{"field":"n","type":"quantitative","scale":{"domain":[0,150],"nice":false},"axis":null},"y2":{"datum":0}}},
 {"data":{"values":[{"t":"F"}]},"mark":{"type":"text","fontSize":20,"baseline":"middle","align":"center","color":"#222"},
  "encoding":{"text":{"field":"t"},"x":{"datum":2.44,"type":"quantitative","axis":null},"y":{"datum":111,"type":"quantitative","axis":null}}},
 {"data":{"values":[{"t":"PED"}]},"mark":{"type":"text","fontSize":12,"baseline":"middle","align":"center","color":"#222"},
  "encoding":{"text":{"field":"t"},"x":{"datum":3.3,"type":"quantitative","axis":null},"y":{"datum":93,"type":"quantitative","axis":null}}}
]}
]
}
